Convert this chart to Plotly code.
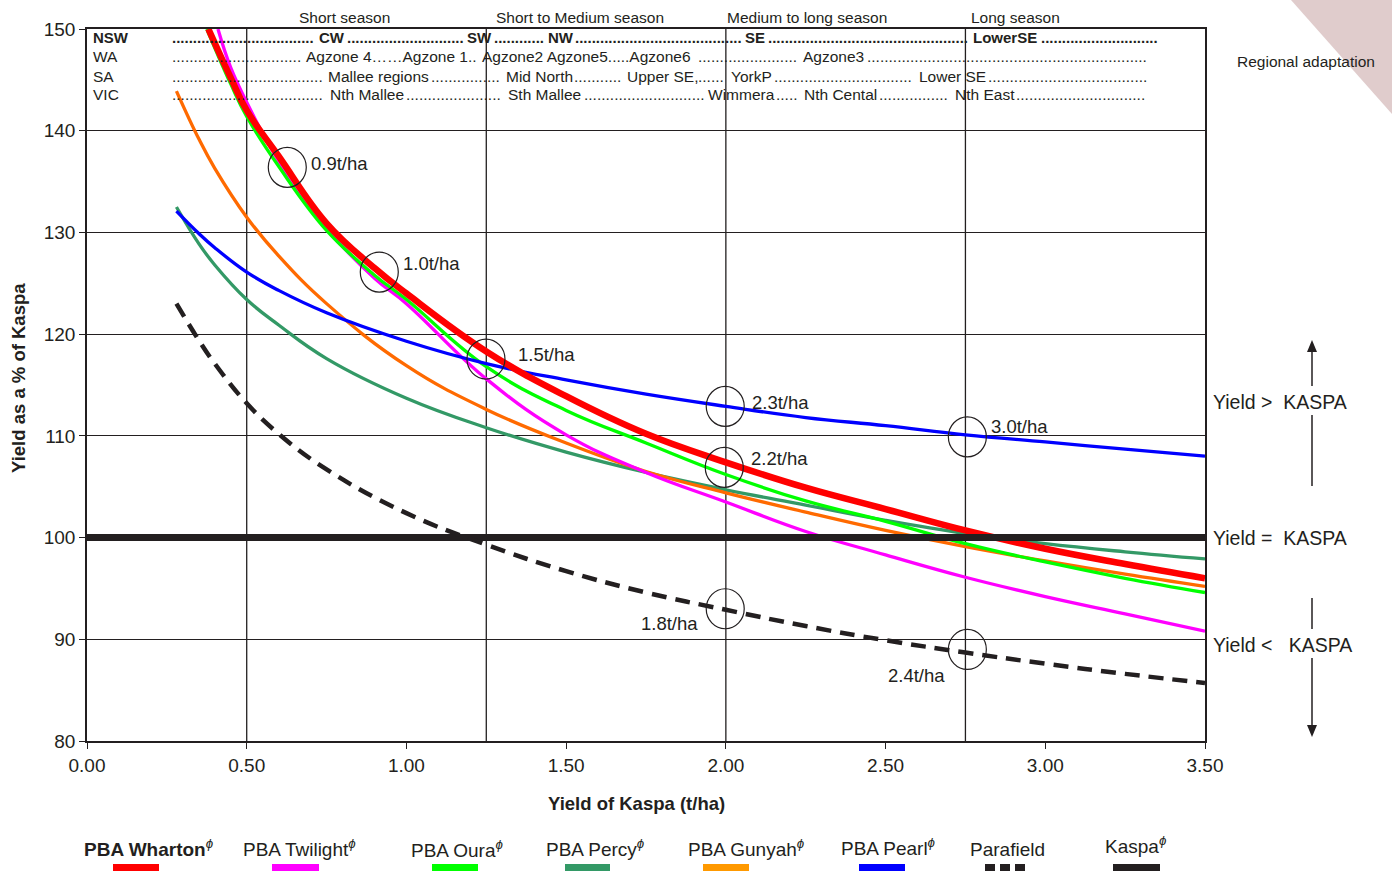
import plotly.graph_objects as go

# ---------------- data (yield of Kaspa t/ha  ->  yield as % of Kaspa) ----------------
x_grid = [0.28, 0.35, 0.4, 0.5, 0.6, 0.75, 1.0, 1.25, 1.5, 1.75, 2.0, 2.25, 2.5, 2.75, 3.0, 3.25, 3.5]

wharton_x = [0.38, 0.45, 0.5, 0.6, 0.75, 0.9, 1.0, 1.25, 1.5, 1.75, 2.0, 2.25, 2.5, 2.75, 3.0, 3.25, 3.5]
wharton_y = [150.0, 145.2, 142.0, 137.5, 130.9, 126.5, 124.0, 118.3, 113.9, 110.2, 107.4, 104.9, 102.8, 100.7, 98.9, 97.4, 96.0]

twilight_x = [0.41, 0.45, 0.5, 0.6, 0.75, 0.9, 1.0, 1.25, 1.5, 1.75, 2.0, 2.25, 2.5, 2.75, 3.0, 3.25, 3.5]
twilight_y = [150.0, 146.2, 142.8, 137.0, 130.4, 125.5, 123.0, 115.6, 110.1, 106.4, 103.5, 100.6, 98.3, 96.1, 94.2, 92.5, 90.8]

oura_x = [0.375, 0.45, 0.5, 0.6, 0.75, 0.9, 1.0, 1.25, 1.5, 1.75, 2.0, 2.25, 2.5, 2.75, 3.0, 3.25, 3.5]
oura_y = [150.0, 144.6, 141.4, 136.5, 130.2, 125.8, 123.4, 116.8, 112.5, 109.3, 106.2, 103.6, 101.6, 99.4, 97.6, 96.0, 94.6]

percy_y = [132.5, 128.9, 126.8, 123.4, 120.9, 117.6, 113.7, 110.8, 108.4, 106.4, 104.7, 103.2, 101.7, 100.4, 99.4, 98.6, 97.9]
gunyah_y = [143.9, 139.2, 136.3, 131.5, 127.7, 123.0, 116.9, 112.6, 109.3, 106.5, 104.4, 102.5, 100.7, 99.1, 97.7, 96.4, 95.2]
pearl_y = [132.1, 129.9, 128.5, 126.1, 124.3, 122.1, 119.3, 117.1, 115.5, 114.1, 112.9, 111.8, 111.0, 110.1, 109.4, 108.7, 108.0]
parafield_y = [123.0, 119.4, 117.1, 113.2, 110.2, 106.7, 102.4, 99.3, 96.7, 94.6, 92.9, 91.3, 89.9, 88.7, 87.6, 86.6, 85.7]
kaspa_x = [0.0, 3.5]
kaspa_y = [100.0, 100.0]

season_x = [0.5, 1.25, 2.0, 2.75]          # vertical season boundaries
x_ticks = [0.0, 0.5, 1.0, 1.5, 2.0, 2.5, 3.0, 3.5]

circle_x = [0.627, 0.915, 1.249, 1.998, 1.995, 1.998, 2.756, 2.756]
circle_y = [136.4, 126.1, 117.55, 112.9, 106.9, 93.0, 109.9, 89.0]
circle_labels = ["0.9t/ha", "1.0t/ha", "1.5t/ha", "2.3t/ha", "2.2t/ha", "1.8t/ha", "3.0t/ha", "2.4t/ha"]

legend_names = ["<b>PBA Wharton</b>", "PBA Twilight", "PBA Oura", "PBA Percy", "PBA Gunyah",
                "PBA Pearl", "Parafield", "Kaspa"]
legend_phi = [True, True, True, True, True, True, False, True]
legend_colors = ["#ff0000", "#ff00ff", "#00ff00", "#339966", "#ff9900", "#0000ff", "#231f20", "#231f20"]

season_labels = ["Short season", "Short to Medium season", "Medium to long season", "Long season"]
state_labels = ["NSW", "WA", "SA", "VIC"]
nsw_words = ["CW", "SW", "NW", "SE", "LowerSE"]
wa_words = ["Agzone 4……Agzone 1..", "Agzone2 Agzone5.....Agzone6", "Agzone3"]
sa_words = ["Mallee regions", "Mid North", "Upper SE,", "YorkP", "Lower SE"]
vic_words = ["Nth Mallee", "Sth Mallee", "Wimmera", "Nth Cental", "Nth East"]

# ---------------- layout geometry (pixels) ----------------
W, H = 1392, 871
PL, PR, PT, PB = 87, 1205, 29, 741
ink = "#231f20"
FONT = "Liberation Sans, Arial, sans-serif"


def px_x(p):
    return (p - PL) / (PR - PL)


def px_y(p):
    return (PB - p) / (PB - PT)


fig = go.Figure()

spl = dict(shape="spline", smoothing=1.2)
fig.add_trace(go.Scatter(x=x_grid, y=percy_y, mode="lines", line=dict(color="#339966", width=3.3, **spl)))
fig.add_trace(go.Scatter(x=x_grid, y=gunyah_y, mode="lines", line=dict(color="#ff6a00", width=3.3, **spl)))
fig.add_trace(go.Scatter(x=twilight_x, y=twilight_y, mode="lines", line=dict(color="#ff00ff", width=3.3, **spl)))
fig.add_trace(go.Scatter(x=oura_x, y=oura_y, mode="lines", line=dict(color="#00ff00", width=3.3, **spl)))
fig.add_trace(go.Scatter(x=x_grid, y=pearl_y, mode="lines", line=dict(color="#0000ff", width=3.3, **spl)))
fig.add_trace(go.Scatter(x=wharton_x, y=wharton_y, mode="lines", line=dict(color="#ff0000", width=6.5, **spl)))
fig.add_trace(go.Scatter(x=kaspa_x, y=kaspa_y, mode="lines", line=dict(color=ink, width=7)))
fig.add_trace(go.Scatter(x=x_grid, y=parafield_y, mode="lines",
                         line=dict(color=ink, width=4.5, dash="15px,9px", **spl)))

shapes = []
annotations = []

# pink corner triangle
shapes.append(dict(type="path", xref="paper", yref="paper", layer="below",
                   path=f"M {px_x(1291)} {px_y(0)} L {px_x(1392)} {px_y(0)} L {px_x(1392)} {px_y(114)} Z",
                   fillcolor="#e0cccc", line=dict(width=0)))

# vertical season lines
for sx in season_x:
    shapes.append(dict(type="line", xref="x", yref="y", x0=sx, x1=sx, y0=80, y1=150,
                       line=dict(color=ink, width=1.3), layer="below"))

# circles + labels
label_off = [(22, 4, "left"), (22, 9, "left"), (30, 5, "left"), (25, 4, "left"),
             (25, 9, "left"), (-25, -15, "right"), (22, 10, "left"), (-20, -26, "right")]
for cx, cy, lab, (dx, dy, anc) in zip(circle_x, circle_y, circle_labels, label_off):
    shapes.append(dict(type="circle", xref="x", yref="y", xsizemode="pixel", ysizemode="pixel",
                       xanchor=cx, yanchor=cy, x0=-19, x1=19, y0=-20, y1=20,
                       line=dict(color=ink, width=1.2), fillcolor="rgba(0,0,0,0)", layer="above"))
    annotations.append(dict(xref="x", yref="y", x=cx, y=cy, xshift=dx, yshift=dy, xanchor=anc,
                            yanchor="middle", text=lab, showarrow=False,
                            font=dict(size=18.5, color=ink, family=FONT)))

# season labels
for lab, cxp in zip(season_labels, [344, 580, 807, 1016]):
    annotations.append(dict(xref="paper", yref="paper", x=px_x(cxp), y=px_y(17), text=lab,
                            showarrow=False, xanchor="center", yanchor="middle",
                            font=dict(size=15.5, color=ink, family=FONT)))

# regional rows
row_y = [37, 57, 76, 95]
row_words = [nsw_words, wa_words, sa_words, vic_words]
row_left = [[318, 466, 547, 744, 972], [305, 481, 802], [327, 505, 626, 730, 918], [329, 507, 707, 803, 954]]
row_right = [[346, 493, 574, 767, 1040], [481, 697, 866], [430, 573, 697, 773, 987], [405, 583, 775, 878, 1015]]
row_end = [1160, 1153, 1153, 1148]
row_bold = [True, False, False, False]
for st, ry, words, lefts, rights, rend, bold in zip(state_labels, row_y, row_words, row_left, row_right,
                                                      row_end, row_bold):
    fs = 15 if bold else 15.5
    dot_w = 0.278 * fs

    def txt(t):
        return f"<b>{t}</b>" if bold else t

    annotations.append(dict(xref="paper", yref="paper", x=px_x(91), y=px_y(ry), text=txt(st),
                            showarrow=False, xanchor="left", yanchor="middle",
                            font=dict(size=fs, color=ink, family=FONT)))
    starts = [171] + rights
    ends = lefts + [rend]
    for s, e in zip(starts, ends):
        n = int((e - s - 3) / dot_w)
        if n > 0:
            annotations.append(dict(xref="paper", yref="paper", x=px_x(s - 1), y=px_y(ry), text=txt("." * n),
                                    showarrow=False, xanchor="left", yanchor="middle",
                                    font=dict(size=fs, color=ink, family=FONT)))
    for w_, l_ in zip(words, lefts):
        annotations.append(dict(xref="paper", yref="paper", x=px_x(l_ - 1), y=px_y(ry), text=txt(w_),
                                showarrow=False, xanchor="left", yanchor="middle",
                                font=dict(size=fs, color=ink, family=FONT)))

annotations.append(dict(xref="paper", yref="paper", x=px_x(1306), y=px_y(61), text="Regional adaptation",
                        showarrow=False, xanchor="center", yanchor="middle",
                        font=dict(size=15.5, color=ink, family=FONT)))

# right side labels & arrows
nb = "\u00a0"
for lab, yy in [(f"Yield{nb}>{nb}{nb}KASPA", 402), (f"Yield{nb}={nb}{nb}KASPA", 538),
                (f"Yield{nb}<{nb}{nb}{nb}KASPA", 645)]:
    annotations.append(dict(xref="paper", yref="paper", x=px_x(1211), y=px_y(yy), text=lab,
                            showarrow=False, xanchor="left", yanchor="middle",
                            font=dict(size=19.5, color=ink, family=FONT)))
for y0, y1 in [(350, 386), (415, 486), (598, 629), (658, 727)]:
    shapes.append(dict(type="line", xref="paper", yref="paper", x0=px_x(1312), x1=px_x(1312),
                       y0=px_y(y0), y1=px_y(y1), line=dict(color=ink, width=1.5)))
# arrow heads (up at top, down at bottom)
shapes.append(dict(type="path", xref="paper", yref="paper",
                   path=f"M {px_x(1312)} {px_y(340)} L {px_x(1307)} {px_y(352)} L {px_x(1317)} {px_y(352)} Z",
                   fillcolor=ink, line=dict(width=0)))
shapes.append(dict(type="path", xref="paper", yref="paper",
                   path=f"M {px_x(1312)} {px_y(737)} L {px_x(1307)} {px_y(725)} L {px_x(1317)} {px_y(725)} Z",
                   fillcolor=ink, line=dict(width=0)))

# axis titles
annotations.append(dict(xref="paper", yref="paper", x=px_x(18), y=px_y(378), text="<b>Yield as a % of Kaspa</b>",
                        textangle=-90, showarrow=False, xanchor="center", yanchor="middle",
                        font=dict(size=18.5, color=ink, family=FONT)))
annotations.append(dict(xref="paper", yref="paper", x=px_x(636), y=px_y(803), text="<b>Yield of Kaspa (t/ha)</b>",
                        showarrow=False, xanchor="center", yanchor="middle",
                        font=dict(size=18.5, color=ink, family=FONT)))

# custom legend
leg_text_left = [83, 242, 410, 545, 687, 840, 969, 1104]
leg_text_y = [848, 848, 849, 848, 848, 847, 849, 845]
leg_bar = [(113, 159), (272, 319), (432, 478), (565, 610), (703, 749), (859, 905), None, (1113, 1160)]
for name, phi, col, lx, ly, bar in zip(legend_names, legend_phi, legend_colors, leg_text_left, leg_text_y, leg_bar):
    t = name + ("<sup><i>ϕ</i></sup>" if phi else "")
    annotations.append(dict(xref="paper", yref="paper", x=px_x(lx - 1), y=px_y(ly), text=t,
                            showarrow=False, xanchor="left", yanchor="middle",
                            font=dict(size=19, color=ink, family=FONT)))
    if bar is not None:
        shapes.append(dict(type="rect", xref="paper", yref="paper", x0=px_x(bar[0]), x1=px_x(bar[1]),
                           y0=px_y(871), y1=px_y(864), fillcolor=col, line=dict(width=0)))
for a, b in [(985, 995), (1000, 1010), (1015, 1025)]:
    shapes.append(dict(type="rect", xref="paper", yref="paper", x0=px_x(a), x1=px_x(b),
                       y0=px_y(871), y1=px_y(864), fillcolor=ink, line=dict(width=0)))

fig.update_layout(
    width=W, height=H, autosize=False,
    margin=dict(l=PL, r=W - PR, t=PT, b=H - PB, pad=0),
    paper_bgcolor="white", plot_bgcolor="white",
    showlegend=False,
    font=dict(family=FONT, color=ink),
    shapes=shapes, annotations=annotations,
    xaxis=dict(range=[0, 3.5], tickvals=x_ticks, tickformat=".2f", showgrid=False, zeroline=False,
               showline=True, linecolor=ink, linewidth=1.5, mirror=True, ticks="outside", ticklen=6,
               tickcolor=ink, tickwidth=1.3, tickfont=dict(size=19, color=ink, family=FONT)),
    yaxis=dict(range=[80, 150], dtick=10, showgrid=True, gridcolor=ink, gridwidth=1.3, zeroline=False,
               showline=True, linecolor=ink, linewidth=1.5, mirror=True, ticks="outside", ticklen=6,
               tickcolor=ink, tickwidth=1.3, tickfont=dict(size=19, color=ink, family=FONT)),
)

fig.write_html("out.html", config={"displayModeBar": False},
               post_script="document.body.style.margin='0';document.body.style.overflow='hidden';")
